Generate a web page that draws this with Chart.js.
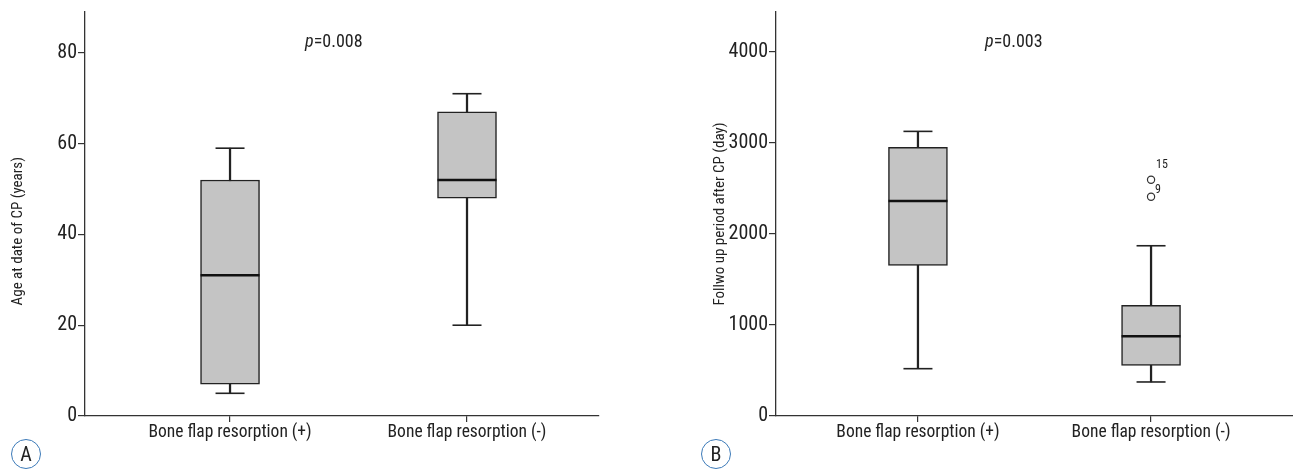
<!DOCTYPE html>
<html>
<head>
<meta charset="utf-8">
<script src="https://cdn.jsdelivr.net/npm/chart.js@4/dist/chart.umd.min.js"></script>
<style>
  html, body { margin: 0; padding: 0; background: #fff; }
  #wrap { position: relative; width: 1293px; height: 471px; overflow: hidden; }
  canvas { position: absolute; top: 0; }
  #chartA { left: 0; }
  #chartB { left: 640px; }
  .tag {
    position: absolute; top: 439px; width: 28px; height: 28px;
    border: 1.3px solid #3c7ab8; border-radius: 50%;
    font: 20px 'Roboto Condensed', sans-serif;
    color: #222; text-align: center; line-height: 29px;
  }
</style>
</head>
<body>
<div id="wrap">
  <canvas id="chartA" width="640" height="471"></canvas>
  <canvas id="chartB" width="653" height="471"></canvas>
  <div class="tag" style="left:11px">A</div>
  <div class="tag" style="left:701px">B</div>
</div>
<script>
// groups shown on both panels
var categories = ['Bone flap resorption (+)', 'Bone flap resorption (-)']

// panel A: age at date of CP (years)
var ageMin = [5, 20]
var ageQ1 = [7, 48]
var ageMedian = [31, 52]
var ageQ3 = [52, 67]
var ageMax = [59, 71]
var ageTicks = [0, 20, 40, 60, 80]

// panel B: follow up period after CP (day)
var followMin = [520, 374]
var followQ1 = [1656, 557]
var followMedian = [2363, 876]
var followQ3 = [2953, 1216]
var followMax = [3128, 1871]
var followTicks = [0, 1000, 2000, 3000, 4000]
var outlierGroup = [2, 2]
var outlierValue = [2597, 2410]
var outlierLabel = ['15', '9']

var FONT = "'Roboto Condensed', sans-serif"
var INK = '#222'

var notes = {
  id: 'notes',
  afterDraw: function (chart, args, o) {
    var ctx = chart.ctx
    var area = chart.chartArea
    ctx.save()
    ctx.fillStyle = INK
    ctx.textBaseline = 'middle'
    ctx.textAlign = 'left'
    // p-value, italic p
    var italic = 'italic 18px ' + FONT
    var plain = '18px ' + FONT
    ctx.font = italic
    var w1 = ctx.measureText('p').width
    ctx.font = plain
    var w2 = ctx.measureText(o.pText).width
    var x = area.left + area.width * o.pAt - (w1 + w2) / 2
    var y = area.top + 30
    ctx.font = italic
    ctx.fillText('p', x, y)
    ctx.font = plain
    ctx.fillText(o.pText, x + w1, y)
    // outlier case numbers
    ctx.font = '12px ' + FONT
    ctx.textAlign = 'center'
    ;(o.labels || []).forEach(function (l) {
      var px = chart.scales.x.getPixelForValue(l.x)
      var py = chart.scales.y.getPixelForValue(l.y)
      ctx.fillText(l.text, px + l.dx, py + l.dy)
    })
    ctx.restore()
  }
}

function noPadding (scale) {
  scale.paddingTop = 0
  scale.paddingBottom = 0
  scale.paddingLeft = 0
  scale.paddingRight = 0
}

function boxChart (id, s) {
  var pos = categories.map(function (c, i) { return i + 1 })
  var datasets = [{
    type: 'scatter',
    data: pos.map(function (x, i) { return { x: x, y: s.median[i] } }),
    pointStyle: 'line', pointRadius: 29.5, pointBorderWidth: 2.6,
    pointBorderColor: '#111', order: 0
  }, {
    type: 'scatter',
    data: pos.map(function (x, i) { return { x: x, y: s.min[i] } })
      .concat(pos.map(function (x, i) { return { x: x, y: s.max[i] } })),
    pointStyle: 'line', pointRadius: 14.5, pointBorderWidth: 1.6,
    pointBorderColor: INK, order: 0
  }, {
    type: 'bar',
    data: pos.map(function (x, i) { return { x: x, y: [s.q1[i], s.q3[i]] } }),
    backgroundColor: '#c4c4c4', borderColor: INK, borderWidth: 1.5,
    borderSkipped: false, barThickness: 59, grouped: false, order: 1
  }, {
    type: 'bar',
    data: pos.map(function (x, i) { return { x: x, y: [s.min[i], s.max[i]] } }),
    backgroundColor: INK, borderWidth: 0,
    barThickness: 1.6, grouped: false, order: 2
  }]
  if (s.outlierValue) {
    datasets.unshift({
      type: 'scatter',
      data: s.outlierValue.map(function (v, i) { return { x: s.outlierGroup[i], y: v } }),
      pointStyle: 'circle', pointRadius: 3.6, pointBorderWidth: 1.2,
      pointBackgroundColor: '#fff', pointBorderColor: '#333', order: 0
    })
  }

  return new Chart(document.getElementById(id), {
    type: 'bar',
    data: { datasets: datasets },
    plugins: [notes],
    options: {
      responsive: false,
      animation: false,
      events: [],
      layout: { autoPadding: false, padding: { top: 12, right: s.padRight, bottom: 0, left: 0 } },
      plugins: {
        legend: { display: false },
        tooltip: { enabled: false },
        notes: { pText: s.pText, pAt: s.pAt, labels: s.labels }
      },
      scales: {
        x: {
          type: 'linear',
          min: s.xMin,
          max: s.xMax,
          offset: false,
          afterBuildTicks: function (scale) {
            scale.ticks = pos.map(function (v) { return { value: v } })
          },
          afterFit: function (scale) {
            scale.height = 55
            noPadding(scale)
          },
          grid: { drawOnChartArea: false, offset: false, tickLength: 6, color: '#333', lineWidth: 1.2 },
          border: { color: '#333', width: 1.3 },
          ticks: {
            padding: 0,
            color: INK,
            font: { family: FONT, size: 17.5 },
            maxRotation: 0,
            autoSkip: false,
            callback: function (v, i) { return categories[i] }
          }
        },
        y: {
          min: 0,
          max: s.yMax,
          afterBuildTicks: function (scale) {
            scale.ticks = s.ticks.map(function (v) { return { value: v } })
          },
          afterFit: function (scale) {
            scale.width = s.axisWidth
            noPadding(scale)
          },
          grid: { drawOnChartArea: false, tickLength: 7, color: '#333', lineWidth: 1.2 },
          border: { color: '#333', width: 1.3 },
          ticks: {
            padding: 1,
            color: INK,
            font: { family: FONT, size: 20 },
            callback: function (v) { return String(v) }
          },
          title: {
            display: true,
            text: s.title,
            color: INK,
            font: { family: FONT, size: 15 },
            padding: { top: s.titleOffset, bottom: 0 }
          }
        }
      }
    }
  })
}

boxChart('chartA', {
  min: ageMin, q1: ageQ1, median: ageMedian, q3: ageQ3, max: ageMax,
  ticks: ageTicks, yMax: 89,
  title: 'Age at date of CP (years)          ',
  titleOffset: 9, axisWidth: 85, padRight: 41,
  xMin: 0.388, xMax: 2.557,
  pText: '=0.008', pAt: 0.484
})

boxChart('chartB', {
  min: followMin, q1: followQ1, median: followMedian, q3: followQ3, max: followMax,
  outlierGroup: outlierGroup, outlierValue: outlierValue,
  ticks: followTicks, yMax: 4440,
  title: 'Follwo up period after CP (day)',
  titleOffset: 71, axisWidth: 136, padRight: 0,
  xMin: 0.391, xMax: 2.609,
  pText: '=0.003', pAt: 0.46,
  labels: outlierValue.map(function (v, i) {
    return { x: outlierGroup[i], y: v, text: outlierLabel[i], dx: i === 0 ? 11 : 7, dy: i === 0 ? -15 : -7 }
  })
})
</script>
</body>
</html>
